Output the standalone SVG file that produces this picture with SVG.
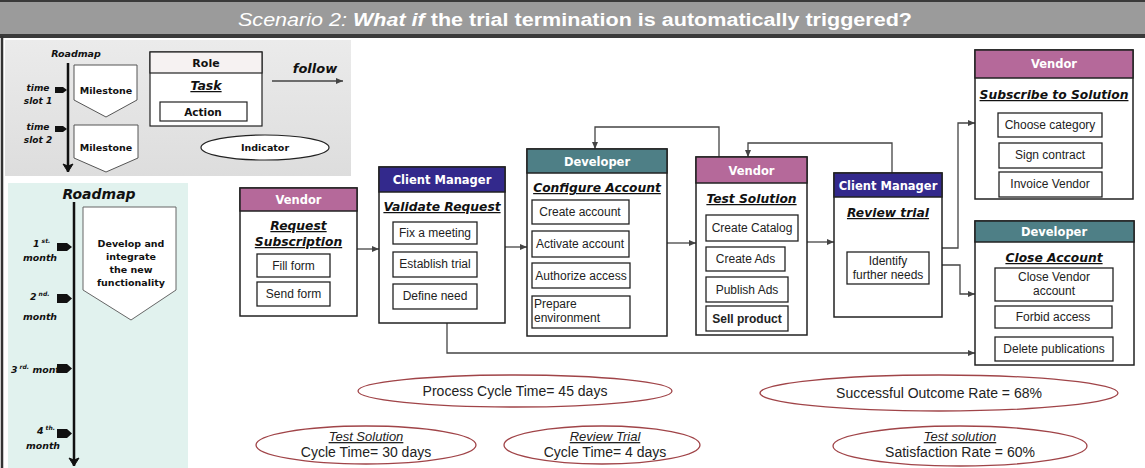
<svg xmlns="http://www.w3.org/2000/svg" width="1145" height="468" viewBox="0 0 1145 468">
<style>
text{font-family:"Liberation Sans",Arial,sans-serif;fill:#111}
.box{fill:#fff;stroke:#222;stroke-width:1.5}
.act{fill:#fff;stroke:#222;stroke-width:1.3}
.hd{font-family:"DejaVu Sans",sans-serif;font-weight:bold;font-size:11.5px;fill:#fff;text-anchor:middle}
.tt{font-family:"DejaVu Sans",sans-serif;font-weight:bold;font-style:italic;font-size:12.3px;text-decoration:underline;text-anchor:middle}
.at{font-size:12px;text-anchor:middle;fill:#222}
.lg{font-family:"DejaVu Sans",sans-serif;font-weight:bold;font-size:9.5px;text-anchor:middle}
.mo{font-family:"DejaVu Sans",sans-serif;font-weight:bold;font-style:italic;font-size:9.4px}
.ind{fill:#fff;stroke:#a04448;stroke-width:1.3}
.it{font-size:14px;text-anchor:middle;fill:#222}
.con{fill:none;stroke:#444;stroke-width:1.3}
.vend{fill:#b5699a}
.cm{fill:#33298c}
.dev{fill:#4e7f86}
</style>
<defs>
<marker id="ah" markerWidth="8" markerHeight="8" refX="7" refY="4" orient="auto" markerUnits="userSpaceOnUse">
<path d="M0,1 L7,4 L0,7 Z" fill="#444"/>
</marker>
<marker id="ahb" markerWidth="12" markerHeight="12" refX="10" refY="6" orient="auto" markerUnits="userSpaceOnUse">
<path d="M2,1 L10,6 L2,11 L4,6 Z" fill="#111" stroke="#111" stroke-width="1"/>
</marker>
<linearGradient id="lgbg" x1="0" y1="0" x2="0" y2="1">
<stop offset="0" stop-color="#ebebeb"/>
<stop offset="1" stop-color="#dddddd"/>
</linearGradient>
</defs>

<!-- title bar -->
<g id="title">
<rect x="0" y="0" width="1145" height="38" fill="#3a3a3a"/>
<rect x="0" y="2" width="1145" height="32" fill="#9b9b9b"/>
<text x="238" y="26" font-size="18" textLength="674" lengthAdjust="spacingAndGlyphs" style="fill:#fff"><tspan font-style="italic">Scenario 2:  </tspan><tspan font-style="italic" font-weight="bold">What if</tspan><tspan font-weight="bold"> the trial termination is automatically triggered?</tspan></text>
</g>
<line x1="2" y1="36" x2="2" y2="468" stroke="#333" stroke-width="2.5"/>

<!-- legend -->
<g id="legend">
<rect x="5" y="40" width="346" height="136" fill="url(#lgbg)"/>
<text x="76" y="57" class="lg" style="font-style:italic">Roadmap</text>
<line x1="68" y1="63" x2="68" y2="172" stroke="#111" stroke-width="2.5" marker-end="url(#ahb)"/>
<polygon points="74,65 137,65 137,100 106,117 74,100" fill="#fff" stroke="#555" stroke-width="1"/>
<text x="106" y="94" class="lg">Milestone</text>
<polygon points="74,125 138,125 138,158 106,172 74,158" fill="#fff" stroke="#555" stroke-width="1"/>
<text x="106" y="151" class="lg">Milestone</text>
<polygon points="55,87 63,87 67,90 63,93 55,93" fill="#111"/>
<polygon points="55,126 63,126 67,129 63,132 55,132" fill="#111"/>
<text x="38" y="91" class="lg" style="font-style:italic;font-size:9px">time</text>
<text x="38" y="104" class="lg" style="font-style:italic;font-size:9px">slot 1</text>
<text x="38" y="130" class="lg" style="font-style:italic;font-size:9px">time</text>
<text x="38" y="143" class="lg" style="font-style:italic;font-size:9px">slot 2</text>
<rect x="150" y="52" width="112" height="74" fill="#fff" stroke="#222" stroke-width="1.2"/>
<rect x="150" y="52" width="112" height="21" fill="#f6f2f2" stroke="#222" stroke-width="1.2"/>
<text x="206" y="66.5" class="lg" style="font-size:11px">Role</text>
<text x="206" y="90" class="lg" style="font-size:12.5px;font-style:italic;text-decoration:underline">Task</text>
<rect x="160" y="102" width="87" height="19" fill="#fff" stroke="#222" stroke-width="1.2"/>
<text x="203" y="115.5" class="lg" style="font-size:10.5px">Action</text>
<text x="315" y="73" class="lg" style="font-size:13px;font-style:italic">follow</text>
<line x1="272" y1="81" x2="343" y2="81" class="con" marker-end="url(#ah)"/>
<ellipse cx="265" cy="147.5" rx="64" ry="12.5" fill="#fff" stroke="#222" stroke-width="1.2"/>
<text x="265" y="151" class="lg" style="font-size:9.5px">Indicator</text>
</g>

<!-- roadmap -->
<g id="roadmap">
<rect x="8" y="183" width="180" height="285" fill="#e1f2ee"/>
<text x="99" y="199" class="lg" style="font-size:14px;font-style:italic">Roadmap</text>
<line x1="74" y1="202" x2="74" y2="466" stroke="#111" stroke-width="2.5" marker-end="url(#ahb)"/>
<polygon points="83,207 176,207 176,290 131,320 83,290" fill="#fff" stroke="#666" stroke-width="1"/>
<text x="131" y="247" class="lg">Develop and</text>
<text x="131" y="260" class="lg">integrate</text>
<text x="131" y="273" class="lg">the new</text>
<text x="131" y="286" class="lg">functionality</text>
<polygon points="57,243 67,243 72,247 67,251 57,251" fill="#111"/>
<polygon points="57,294 67,294 72,298.5 67,303 57,303" fill="#111"/>
<text x="33" y="247" class="mo">1<tspan style="font-size:6px" dy="-4"> st.</tspan></text>
<text x="23" y="261" class="mo">month</text>
<text x="30" y="300" class="mo">2<tspan style="font-size:6px" dy="-4"> nd.</tspan></text>
<text x="23" y="320" class="mo">month</text>
<text x="11" y="373" class="mo">3<tspan style="font-size:6px" dy="-4"> rd.</tspan><tspan dy="4"> month</tspan></text>
<polygon points="57,364 67,364 72,368.5 67,373 57,373" fill="#111"/>
<polygon points="57,429 67,429 72,433.5 67,438 57,438" fill="#111"/>
<text x="37" y="434" class="mo">4<tspan style="font-size:6px" dy="-4"> th.</tspan></text>
<text x="26" y="449" class="mo">month</text>
</g>

<!-- connectors -->
<g id="connectors">
<line x1="357" y1="249" x2="379" y2="249" class="con" marker-end="url(#ah)"/>
<line x1="505" y1="247" x2="527" y2="247" class="con" marker-end="url(#ah)"/>
<line x1="667" y1="243" x2="696" y2="243" class="con" marker-end="url(#ah)"/>
<line x1="807" y1="242" x2="834" y2="242" class="con" marker-end="url(#ah)"/>
<polyline points="719,157 719,127 595,127 595,149" class="con" marker-end="url(#ah)"/>
<polyline points="892,173 892,143 748,143 748,157" class="con" marker-end="url(#ah)"/>
<polyline points="942,248 958,248 958,123 975,123" class="con" marker-end="url(#ah)"/>
<polyline points="942,265 960,265 960,294 975,294" class="con" marker-end="url(#ah)"/>
<polyline points="447,323 447,353 975,353" class="con" marker-end="url(#ah)"/>
</g>

<!-- nodes -->
<g id="vendor-request">
<rect x="240" y="188" width="117" height="128" class="box"/>
<rect x="240" y="188" width="117" height="23" class="vend" stroke="#222" stroke-width="1.5"/>
<text x="298.5" y="204" class="hd">Vendor</text>
<text x="298.5" y="230" class="tt">Request</text>
<text x="298.5" y="246" class="tt">Subscription</text>
<rect x="257" y="254" width="73" height="23" class="act"/>
<text x="293.5" y="270" class="at">Fill form</text>
<rect x="257" y="282" width="73" height="24" class="act"/>
<text x="293.5" y="298" class="at">Send form</text>
</g>

<g id="cm-validate">
<rect x="379" y="167" width="126" height="156" class="box"/>
<rect x="379" y="167" width="126" height="25" class="cm" stroke="#222" stroke-width="1.5"/>
<text x="442" y="184" class="hd">Client Manager</text>
<text x="442" y="211" class="tt">Validate Request</text>
<rect x="393" y="222" width="84" height="22" class="act"/>
<text x="435" y="237" class="at">Fix a  meeting</text>
<rect x="393" y="252" width="84" height="25" class="act"/>
<text x="435" y="268" class="at">Establish trial</text>
<rect x="393" y="284" width="84" height="25" class="act"/>
<text x="435" y="300" class="at">Define need</text>
</g>

<g id="dev-configure">
<rect x="527" y="149" width="140" height="187" class="box"/>
<rect x="527" y="149" width="140" height="24" class="dev" stroke="#222" stroke-width="1.5"/>
<text x="597" y="166" class="hd">Developer</text>
<text x="597" y="192" class="tt">Configure Account</text>
<rect x="532" y="200" width="97" height="24" class="act"/>
<text x="580" y="215.5" class="at">Create account</text>
<rect x="532" y="231" width="97" height="26" class="act"/>
<text x="580" y="248" class="at">Activate account</text>
<rect x="532" y="263" width="98" height="25" class="act"/>
<text x="581" y="279.5" class="at">Authorize access</text>
<rect x="532" y="296" width="98" height="32" class="act"/>
<text x="534" y="308" class="at" style="text-anchor:start">Prepare</text>
<text x="534" y="322" class="at" style="text-anchor:start">environment</text>
</g>

<g id="vendor-test">
<rect x="696" y="157" width="111" height="178" class="box"/>
<rect x="696" y="157" width="111" height="26" class="vend" stroke="#222" stroke-width="1.5"/>
<text x="751.5" y="174.5" class="hd">Vendor</text>
<text x="751.5" y="203" class="tt">Test Solution</text>
<rect x="706" y="215" width="92" height="26" class="act"/>
<text x="752" y="232" class="at">Create Catalog</text>
<rect x="706" y="247" width="79" height="24" class="act"/>
<text x="745.5" y="263" class="at">Create Ads</text>
<rect x="706" y="277" width="82" height="25" class="act"/>
<text x="747" y="294" class="at">Publish Ads</text>
<rect x="706" y="306" width="82" height="25" class="act"/>
<text x="747" y="323" class="at" style="font-weight:bold">Sell product</text>
</g>

<g id="cm-review">
<rect x="834" y="173" width="108" height="144" class="box"/>
<rect x="834" y="173" width="108" height="24" class="cm" stroke="#222" stroke-width="1.5"/>
<text x="888" y="189.5" class="hd">Client Manager</text>
<text x="888" y="217" class="tt">Review trial</text>
<rect x="847" y="252" width="82" height="32" class="act"/>
<text x="888" y="265" class="at">Identify</text>
<text x="888" y="279" class="at">further needs</text>
</g>

<g id="vendor-subscribe">
<rect x="975" y="50" width="158" height="149" class="box"/>
<rect x="975" y="50" width="158" height="28" class="vend" stroke="#222" stroke-width="1.5"/>
<text x="1054" y="68" class="hd">Vendor</text>
<text x="1054" y="99" class="tt">Subscribe to Solution</text>
<rect x="998" y="113" width="104" height="24" class="act"/>
<text x="1050" y="129" class="at">Choose category</text>
<rect x="999" y="143" width="103" height="25" class="act"/>
<text x="1050" y="159" class="at">Sign contract</text>
<rect x="999" y="172" width="103" height="25" class="act"/>
<text x="1050" y="188" class="at">Invoice Vendor</text>
</g>

<g id="dev-close">
<rect x="975" y="221" width="159" height="144" class="box"/>
<rect x="975" y="221" width="159" height="21" class="dev" stroke="#222" stroke-width="1.5"/>
<text x="1054" y="235.5" class="hd">Developer</text>
<text x="1054" y="262" class="tt">Close Account</text>
<rect x="995" y="268" width="118" height="33" class="act"/>
<text x="1054" y="281" class="at">Close Vendor</text>
<text x="1054" y="295" class="at">account</text>
<rect x="995" y="306" width="117" height="22" class="act"/>
<text x="1053" y="321" class="at">Forbid access</text>
<rect x="995" y="337" width="118" height="24" class="act"/>
<text x="1054" y="353" class="at">Delete publications</text>
</g>

<!-- indicators -->
<g id="ind-process">
<ellipse cx="515" cy="391" rx="157" ry="16" class="ind"/>
<text x="515" y="396" class="it">Process Cycle Time= 45 days</text>
</g>
<g id="ind-outcome">
<ellipse cx="939" cy="393" rx="179" ry="18" class="ind"/>
<text x="939" y="398" class="it">Successful Outcome Rate = 68%</text>
</g>
<g id="ind-test-cycle">
<ellipse cx="366" cy="445" rx="110" ry="19" class="ind"/>
<text x="366" y="441" class="it" style="font-style:italic;text-decoration:underline;font-size:13px">Test Solution</text>
<text x="366" y="457" class="it">Cycle Time= 30 days</text>
</g>
<g id="ind-review-cycle">
<ellipse cx="602" cy="445" rx="98" ry="19" class="ind"/>
<text x="605" y="441" class="it" style="font-style:italic;text-decoration:underline;font-size:13px">Review Trial</text>
<text x="605" y="457" class="it">Cycle Time= 4 days</text>
</g>
<g id="ind-satisfaction">
<ellipse cx="960" cy="446" rx="127" ry="20" class="ind"/>
<text x="960" y="441" class="it" style="font-style:italic;text-decoration:underline;font-size:13px">Test solution</text>
<text x="960" y="457" class="it">Satisfaction Rate = 60%</text>
</g>
</svg>
